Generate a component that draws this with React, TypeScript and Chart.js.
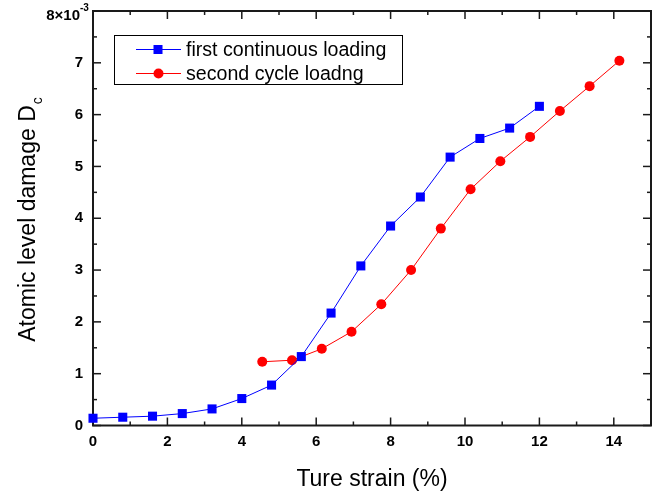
import { useEffect, useRef } from 'react';
import { Chart, registerables } from 'chart.js';
Chart.register(...registerables);

const FONT = '"Liberation Sans", Arial, sans-serif';

const firstLabel = 'first continuous loading';
const firstStrain = [0, 0.8, 1.6, 2.4, 3.2, 4.0, 4.8, 5.6, 6.4, 7.2, 8.0, 8.8, 9.6, 10.4, 11.2, 12.0];
const firstDamage = [0.14, 0.16, 0.18, 0.23, 0.32, 0.52, 0.78, 1.33, 2.17, 3.08, 3.85, 4.41, 5.18, 5.54, 5.74, 6.16];

const secondLabel = 'second cycle loadng';
const secondStrain = [4.55, 5.35, 6.15, 6.95, 7.75, 8.55, 9.35, 10.15, 10.95, 11.75, 12.55, 13.35, 14.15];
const secondDamage = [1.23, 1.26, 1.48, 1.81, 2.34, 3.0, 3.8, 4.56, 5.1, 5.57, 6.07, 6.55, 7.04];

const xMin = 0, xMax = 15, xStep = 2, xMinor = 1;
const yMin = 0, yMax = 8, yStep = 1, yMinor = 0.5;
const xTitle = 'Ture strain (%)';
const yTitle = 'Atomic level damage D';
const yTitleSub = 'c';
const yTopLabel = '8\u00d710';
const yTopExp = '-3';

const BLUE = '#0000ff';
const RED = '#ff0000';
const AXIS = '#1a1a1a';

const framePlugin = {
  id: 'frame',
  beforeDatasetsDraw(chart: any) {
    const { ctx, chartArea: a, scales } = chart;
    const xs = scales.x, ys = scales.y;
    ctx.save();
    ctx.strokeStyle = AXIS;
    ctx.lineWidth = 2;
    ctx.strokeRect(a.left, a.top, a.right - a.left, a.bottom - a.top);
    ctx.lineWidth = 1.5;
    const seg = (x1: number, y1: number, x2: number, y2: number) => {
      ctx.beginPath(); ctx.moveTo(x1, y1); ctx.lineTo(x2, y2); ctx.stroke();
    };
    for (let v = xMin; v <= xMax + 1e-9; v += xMinor) {
      const p = xs.getPixelForValue(v);
      const major = Math.abs(v / xStep - Math.round(v / xStep)) < 1e-6;
      const len = major ? 8 : 4;
      seg(p, a.bottom, p, a.bottom - len);
      seg(p, a.top, p, a.top + len);
    }
    for (let v = yMin; v <= yMax + 1e-9; v += yMinor) {
      const p = ys.getPixelForValue(v);
      const major = Math.abs(v / yStep - Math.round(v / yStep)) < 1e-6;
      const len = major ? 8 : 4;
      seg(a.left, p, a.left + len, p);
      seg(a.right, p, a.right - len, p);
    }
    ctx.restore();
  },
  afterDraw(chart: any) {
    const { ctx, chartArea: a, scales } = chart;
    const ys = scales.y;
    ctx.save();
    ctx.fillStyle = '#000';
    // top tick label with exponent
    const pTop = ys.getPixelForValue(yMax);
    ctx.font = `bold 15px ${FONT}`;
    ctx.textAlign = 'right';
    ctx.textBaseline = 'alphabetic';
    ctx.fillText(yTopLabel, 80, pTop + 9);
    ctx.font = `bold 10px ${FONT}`;
    ctx.textAlign = 'left';
    ctx.fillText(yTopExp, 80, pTop);

    // x title
    ctx.font = `23px ${FONT}`;
    ctx.textAlign = 'center';
    ctx.fillText(xTitle, (a.left + a.right) / 2, 486);

    // y title
    ctx.save();
    ctx.translate(35, 220);
    ctx.rotate(-Math.PI / 2);
    ctx.font = `23px ${FONT}`;
    const w = ctx.measureText(yTitle).width;
    ctx.font = `14px ${FONT}`;
    const ws = ctx.measureText(yTitleSub).width;
    const start = -(w + ws) / 2;
    ctx.textAlign = 'left';
    ctx.font = `23px ${FONT}`;
    ctx.fillText(yTitle, start, 0);
    ctx.font = `14px ${FONT}`;
    ctx.fillText(yTitleSub, start + w + 1, 7);
    ctx.restore();

    // legend
    const bx = 114, by = 35, bw = 288, bh = 49;
    ctx.fillStyle = '#fff';
    ctx.fillRect(bx, by, bw, bh);
    ctx.strokeStyle = '#000';
    ctx.lineWidth = 1;
    ctx.strokeRect(bx + 0.5, by + 0.5, bw, bh);
    const rows = chart.data.datasets.map((d: any, i: number) => ({ d, y: [49.5, 73.5][i] }));
    for (const { d, y } of rows) {
      ctx.strokeStyle = d.borderColor;
      ctx.lineWidth = 1;
      ctx.beginPath(); ctx.moveTo(136, y); ctx.lineTo(181, y); ctx.stroke();
      ctx.fillStyle = d.pointBackgroundColor;
      if (d.pointStyle === 'rect') {
        ctx.fillRect(158 - 4.5, y - 4.5, 9, 9);
      } else {
        ctx.beginPath(); ctx.arc(158.5, y, 5, 0, Math.PI * 2); ctx.fill();
      }
      ctx.fillStyle = '#000';
      ctx.font = `19.6px ${FONT}`;
      ctx.textAlign = 'left';
      ctx.textBaseline = 'middle';
      ctx.fillText(d.label, 186, y + 1);
    }
    ctx.restore();
  },
};

export default function App() {
  const ref = useRef<HTMLCanvasElement>(null);
  useEffect(() => {
    if (!ref.current) return;
    const chart = new Chart(ref.current, {
      type: 'scatter',
      data: {
        datasets: [
          {
            label: firstLabel,
            data: firstStrain.map((x, i) => ({ x, y: firstDamage[i] })),
            showLine: true,
            borderColor: BLUE,
            backgroundColor: BLUE,
            pointBackgroundColor: BLUE,
            pointBorderColor: BLUE,
            pointBorderWidth: 0,
            borderWidth: 1,
            pointStyle: 'rect',
            pointRadius: 6.4,
            clip: false as any,
          },
          {
            label: secondLabel,
            data: secondStrain.map((x, i) => ({ x, y: secondDamage[i] })),
            showLine: true,
            borderColor: RED,
            backgroundColor: RED,
            pointBackgroundColor: RED,
            pointBorderColor: RED,
            pointBorderWidth: 0,
            borderWidth: 1,
            pointStyle: 'circle',
            pointRadius: 5,
            clip: false as any,
          },
        ] as any,
      },
      options: {
        responsive: false,
        animation: false,
        layout: { padding: { left: 0, top: 11, right: 12, bottom: 0 } },
        plugins: { legend: { display: false }, tooltip: { enabled: false } },
        scales: {
          x: {
            type: 'linear',
            min: xMin,
            max: xMax,
            grid: { display: false, drawTicks: false },
            border: { display: false },
            afterFit: (s: any) => { s.height = 71.5; s.paddingLeft = 0; s.paddingRight = 0; },
            afterBuildTicks: (s: any) => {
              s.ticks = s.ticks.filter((t: any) => Math.abs(t.value / xStep - Math.round(t.value / xStep)) < 1e-6 && t.value < xMax);
            },
            ticks: {
              stepSize: xStep,
              padding: 7,
              color: '#000',
              font: { family: FONT, size: 15, weight: 'bold' },
              maxRotation: 0,
            },
          },
          y: {
            type: 'linear',
            min: yMin,
            max: yMax,
            grid: { display: false, drawTicks: false },
            border: { display: false },
            afterFit: (s: any) => { s.width = 93; s.paddingTop = 0; s.paddingBottom = 0; },
            ticks: {
              stepSize: yStep,
              padding: 10,
              color: '#000',
              font: { family: FONT, size: 15, weight: 'bold' },
              callback: (v: any) => (v === yMax ? '' : String(v)),
            },
          },
        },
      } as any,
      plugins: [framePlugin],
    });
    return () => chart.destroy();
  }, []);
  return (
    <div style={{ position: 'absolute', left: 0, top: 0, width: 663, height: 497, background: '#fff' }}>
      <canvas ref={ref} width={663} height={497} style={{ display: 'block' }} />
    </div>
  );
}
